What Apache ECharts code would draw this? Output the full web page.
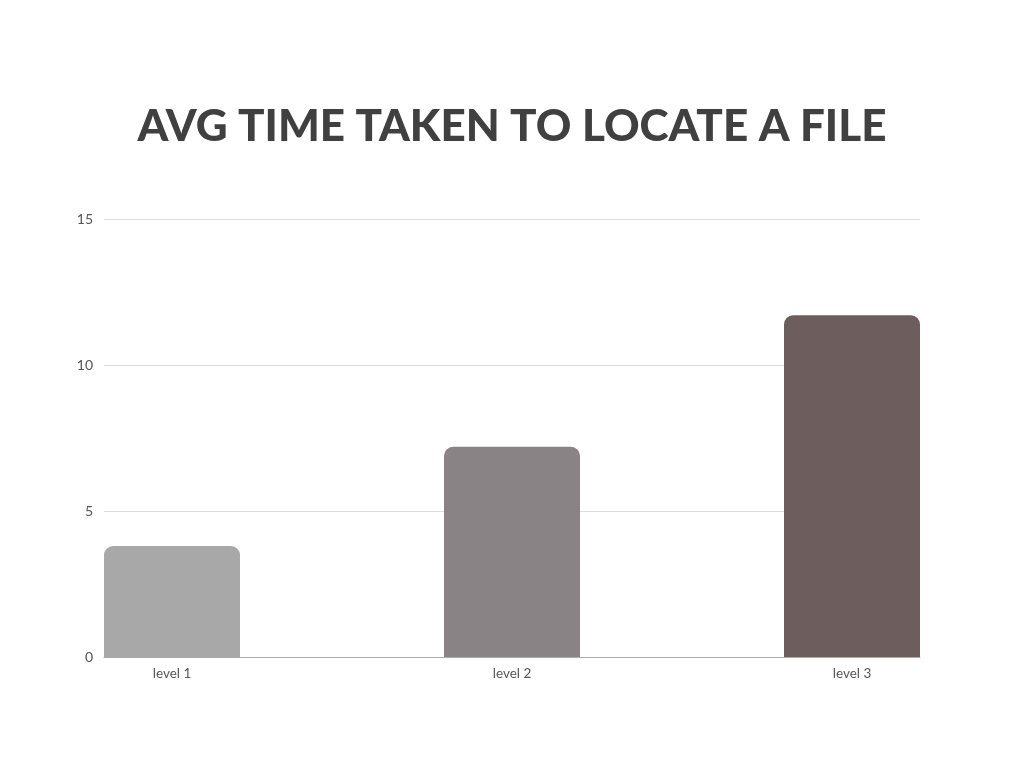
<!DOCTYPE html>
<html>
<head>
<meta charset="utf-8">
<script src="https://cdn.jsdelivr.net/npm/echarts@6/dist/echarts.min.js"></script>
<style>
html, body { margin: 0; padding: 0; background: #fff; }
#chart { width: 1024px; height: 768px; }
</style>
</head>
<body>
<div id="chart"></div>
<script>
var categories = ['level 1', 'level 2', 'level 3'];
var values = [3.8, 7.2, 11.7];
var barColors = ['#a8a8a8', '#8a8385', '#6d5d5d'];
var yTicks = [0, 5, 10, 15];

var myChart = echarts.init(document.getElementById('chart'));

// bars sit at x = 0, 1, 2 on a hidden value axis so the outer bars touch the grid edges
var barData = values.map(function (v, i) {
    return {
        value: [i, v],
        itemStyle: { color: barColors[i] }
    };
});

var option = {
    backgroundColor: '#ffffff',
    title: {
        text: 'AVG TIME TAKEN TO LOCATE A FILE',
        left: 'center',
        top: 100,
        textStyle: {
            fontFamily: 'Lato',
            fontWeight: 900,
            fontSize: 44,
            color: '#404040'
        }
    },
    grid: {
        left: 104,
        right: 104,
        top: 219,
        bottom: 111
    },
    xAxis: {
        type: 'value',
        min: -0.2,
        max: 2.2,
        splitLine: { show: false },
        axisTick: { show: false },
        axisLine: { show: true, lineStyle: { color: '#aaaaaa', width: 1 } },
        axisLabel: {
            customValues: [0, 1, 2],
            formatter: function (v) { return categories[Math.round(v)]; },
            fontFamily: 'Lato',
            fontSize: 13.5,
            color: '#555555',
            margin: 10
        }
    },
    yAxis: {
        type: 'value',
        min: yTicks[0],
        max: yTicks[yTicks.length - 1],
        interval: 5,
        axisLine: { show: false },
        axisTick: { show: false },
        splitLine: { lineStyle: { color: '#dddddd', width: 1 } },
        axisLabel: {
            fontFamily: 'Lato',
            fontSize: 14,
            color: '#555555',
            margin: 11
        }
    },
    series: [{
        type: 'bar',
        data: barData,
        barWidth: 136,
        itemStyle: { borderRadius: [9, 9, 0, 0] }
    }]
};

myChart.setOption(option);
</script>
</body>
</html>
